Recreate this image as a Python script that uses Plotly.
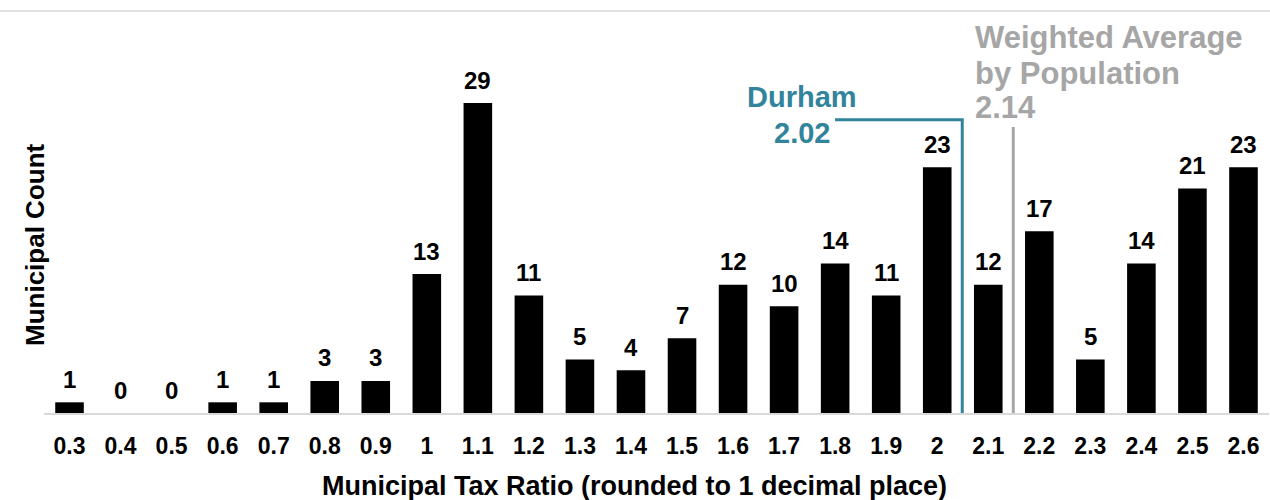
import plotly.graph_objects as go

# ---- data ----
categories = ["0.3", "0.4", "0.5", "0.6", "0.7", "0.8", "0.9", "1", "1.1", "1.2",
              "1.3", "1.4", "1.5", "1.6", "1.7", "1.8", "1.9", "2", "2.1", "2.2",
              "2.3", "2.4", "2.5", "2.6"]
counts = [1, 0, 0, 1, 1, 3, 3, 13, 29, 11, 5, 4, 7, 12, 10, 14, 11, 23, 12, 17, 5, 14, 21, 23]
durham_ratio = 2.02
weighted_avg = 2.14
durham_label = "Durham"
weighted_lines = ["Weighted Average", "by Population"]

FONT = "Liberation Sans, Arial, sans-serif"
TEAL = "#31849B"
GREY = "#A6A6A6"

W, H = 1270, 500
ML, MR, MT, MB = 44, 1, 71, 87
PW = W - ML - MR
PH = H - MT - MB

fig = go.Figure()
fig.add_trace(go.Bar(x=categories, y=counts, marker=dict(color="#000000", line=dict(width=0)),
                     showlegend=False, hoverinfo="x+y"))

# secondary x axis for the marker lines (maps 2.02 / 2.14 between the categories)
n = len(categories)
idx_d = 17.49
step = 0.12
x2_range = [durham_ratio + (-0.5 - idx_d) * step, durham_ratio + (n - 0.5 - idx_d) * step]

durham_top = 27.45
weighted_top = 26.75
fig.add_trace(go.Scatter(x=[durham_ratio, durham_ratio, durham_ratio - 0.299],
                         y=[0, durham_top, durham_top], xaxis="x2", mode="lines",
                         line=dict(color=TEAL, width=3), showlegend=False, hoverinfo="skip"))
fig.add_trace(go.Scatter(x=[weighted_avg, weighted_avg], y=[0, weighted_top], xaxis="x2",
                         mode="lines", line=dict(color=GREY, width=3),
                         showlegend=False, hoverinfo="skip"))

annotations = []
for i, v in enumerate(counts):
    annotations.append(dict(x=i, y=v, xref="x", yref="y", text=f"<b>{v}</b>", showarrow=False,
                            yanchor="middle", yshift=23,
                            font=dict(family=FONT, size=24, color="#000000")))

def px_x(px):
    return (px - ML) / PW

def px_y(py):
    return (H - MB - py) / PH

for txt, cy in zip([durham_label, f"{durham_ratio:.2f}"], [97, 133]):
    annotations.append(dict(x=px_x(802), y=px_y(cy), xref="paper", yref="paper",
                            text=f"<b>{txt}</b>", showarrow=False,
                            xanchor="center", yanchor="middle",
                            font=dict(family=FONT, size=29, color=TEAL)))
for txt, cy in zip(weighted_lines + [f"{weighted_avg:.2f}"], [38, 73, 107]):
    annotations.append(dict(x=px_x(973), y=px_y(cy), xref="paper", yref="paper",
                            text=f"<b>{txt}</b>", showarrow=False,
                            xanchor="left", yanchor="middle",
                            font=dict(family=FONT, size=31, color=GREY)))
annotations.append(dict(x=px_x(634), y=px_y(486), xref="paper", yref="paper",
                        text="<b>Municipal Tax Ratio (rounded to 1 decimal place)</b>",
                        showarrow=False, xanchor="center", yanchor="middle",
                        font=dict(family=FONT, size=27, color="#000000")))
annotations.append(dict(x=px_x(35), y=px_y(245), xref="paper", yref="paper",
                        text="<b>Municipal Count</b>", showarrow=False, textangle=-90,
                        xanchor="center", yanchor="middle",
                        font=dict(family=FONT, size=26, color="#000000")))

fig.update_layout(
    width=W, height=H,
    margin=dict(l=ML, r=MR, t=MT, b=MB, pad=0),
    paper_bgcolor="white", plot_bgcolor="white",
    bargap=0.44,
    font=dict(family=FONT, color="#000000"),
    xaxis=dict(type="category", range=[-0.5, n - 0.5], showline=True, linecolor="#D9D9D9",
               linewidth=2, showgrid=False, zeroline=False, ticks="outside", ticklen=11,
               tickcolor="rgba(0,0,0,0)",
               tickfont=dict(family=FONT, size=23, color="#000000"),
               tickprefix="<b>", ticksuffix="</b>"),
    xaxis2=dict(overlaying="x", range=x2_range, visible=False),
    yaxis=dict(range=[0, 32], visible=False, showgrid=False, zeroline=False),
    annotations=annotations,
    shapes=[dict(type="line", xref="paper", yref="paper", x0=px_x(0), x1=px_x(W),
                 y0=px_y(11), y1=px_y(11), line=dict(color="#D9D9D9", width=1.5))],
)

fig.write_html("out.html")
